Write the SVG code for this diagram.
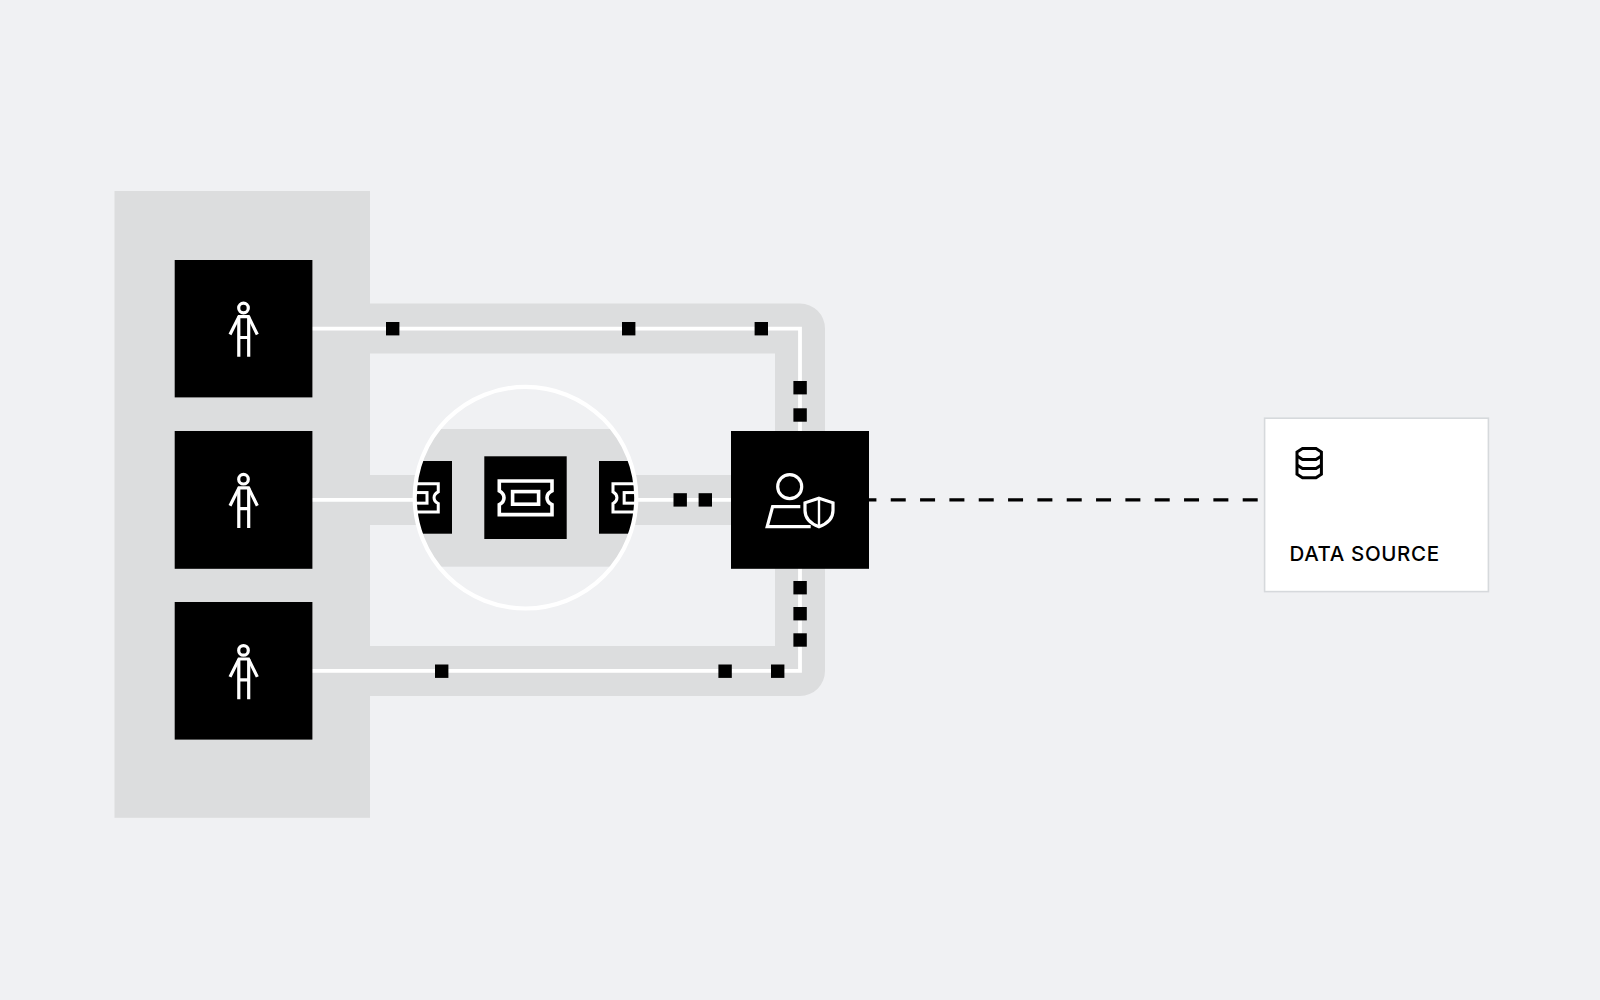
<svg xmlns="http://www.w3.org/2000/svg" width="1600" height="1000" viewBox="0 0 1600 1000">
  <style>
    .band{fill:none;stroke:#dcddde;stroke-width:50;stroke-linejoin:round}
    .wire{fill:none;stroke:#fff;stroke-width:3.8}
    .dot{fill:#000;width:13.4px;height:13.4px}
    .tile{fill:#000}
    .ico{fill:none;stroke:#fff;stroke-width:3.2}
    .tk{fill:none;stroke:#fff;stroke-width:3.6}
    .label{font-family:"Inter","Liberation Sans",Arial,sans-serif;font-size:20.5px;font-weight:500;fill:#000}
  </style>
  <defs>
    <clipPath id="lens"><circle cx="525.5" cy="497.7" r="111"/></clipPath>
    <g id="person" class="ico">
      <circle cx="243.5" cy="308" r="4.8"/>
      <path d="M230 334.5L239 316.6H248.5L257.3 334.5"/>
      <path d="M238.8 316.6V356.8M248.7 316.6V356.8M238.8 337.5H248.7"/>
    </g>
    <g id="ticket">
      <path class="tk" d="M499.3 481H552V490.8C548.5 492.5 547 495 547 497.7C547 500.4 548.5 502.9 552 504.6V514.6H499.3V504.6C502.5 502.9 504 500.4 504 497.7C504 495 502.5 492.5 499.3 490.8Z"/>
      <rect class="tk" x="512.6" y="491.6" width="26" height="12.6"/>
    </g>
  </defs>
  <rect width="1600" height="1000" fill="#f0f1f3"/>

  <g id="background-panel">
    <rect x="114.5" y="191" width="255.5" height="626.8" fill="#dcddde"/>
  </g>

  <g id="connectors">
    <path class="band" d="M370 328.5H800V671H370"/>
    <path class="band" d="M370 500H731"/>
    <path class="wire" d="M312 328.7H800V670.8H312"/>
    <path class="wire" d="M312 499.8H731"/>
    <path d="M1257.7 499.8H869" fill="none" stroke="#000" stroke-width="3.2" stroke-dasharray="15 14.33"/>
    <rect class="dot" x="386" y="322"/>
    <rect class="dot" x="622" y="322"/>
    <rect class="dot" x="754.6" y="322"/>
    <rect class="dot" x="793.4" y="381"/>
    <rect class="dot" x="793.4" y="408.3"/>
    <rect class="dot" x="673.5" y="493.2"/>
    <rect class="dot" x="698.6" y="493.2"/>
    <rect class="dot" x="793.4" y="581"/>
    <rect class="dot" x="793.4" y="607"/>
    <rect class="dot" x="793.4" y="633.3"/>
    <rect class="dot" x="435" y="664.5"/>
    <rect class="dot" x="718.4" y="664.5"/>
    <rect class="dot" x="771" y="664.5"/>
  </g>

  <g id="user-1">
    <rect class="tile" x="174.7" y="260" width="137.7" height="137.4"/>
    <use href="#person"/>
  </g>
  <g id="user-2">
    <rect class="tile" x="174.7" y="431" width="137.7" height="137.8"/>
    <use href="#person" y="171.2"/>
  </g>
  <g id="user-3">
    <rect class="tile" x="174.7" y="602" width="137.7" height="137.6"/>
    <use href="#person" y="342.4"/>
  </g>

  <g id="ticket-lens">
    <circle cx="525.5" cy="497.7" r="111" fill="#f0f1f3"/>
    <g clip-path="url(#lens)">
      <rect x="400" y="429" width="250" height="137.7" fill="#dcddde"/>
      <g id="ticket-left">
        <rect class="tile" x="380" y="461" width="72" height="72.7"/>
        <use href="#ticket" transform="translate(416 497.7) scale(.84) translate(-525.5 -497.7)"/>
      </g>
      <g id="ticket-right">
        <rect class="tile" x="599" y="461" width="72" height="72.7"/>
        <use href="#ticket" transform="translate(635 497.7) scale(.84) translate(-525.5 -497.7)"/>
      </g>
      <g id="ticket-center">
        <rect class="tile" x="484.3" y="456.3" width="82.4" height="82.7"/>
        <use href="#ticket"/>
      </g>
    </g>
    <circle cx="525.5" cy="497.7" r="110.8" fill="none" stroke="#fff" stroke-width="4.2"/>
  </g>

  <g id="access-control">
    <rect class="tile" x="731" y="431" width="138" height="137.8"/>
    <g class="ico">
      <circle cx="789.7" cy="486.7" r="12"/>
      <path d="M800.3 506.7H772.6L767.2 526.6H810.7"/>
      <path d="M819 498.2L833 502.8V510.5C833 518.5 826.5 524 819 526.8C811.5 524 805 518.5 805 510.5V502.8Z"/>
      <path d="M819 498.2V526.8" stroke-width="2.4"/>
    </g>
  </g>

  <g id="data-source">
    <rect x="1264.6" y="418.2" width="223.8" height="173.4" fill="#fff" stroke="#d6d9dc" stroke-width="1.6"/>
    <g fill="none" stroke="#000" stroke-width="3">
      <path d="M1302.5 448.5H1316L1321.4 452V474.2L1316 477.8H1302.5L1297 474.2V452Z"/>
      <path d="M1297 456L1302.5 459.6H1316L1321.4 456"/>
      <path d="M1297 465L1302.5 468.6H1316L1321.4 465"/>
    </g>
    <text class="label" x="1289.5" y="561" textLength="149.5">DATA SOURCE</text>
  </g>
</svg>
